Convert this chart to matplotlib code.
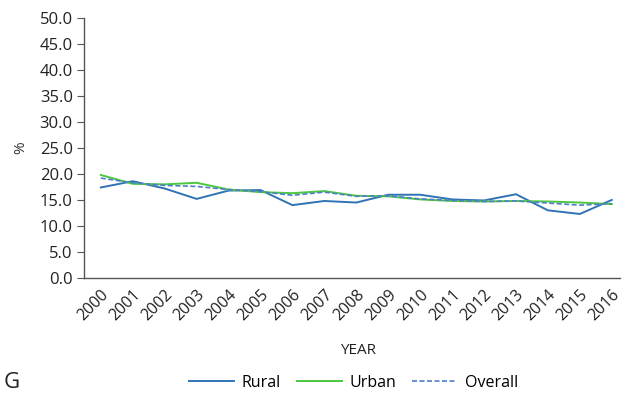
import matplotlib
matplotlib.use("Agg")
import matplotlib.pyplot as plt
from matplotlib.ticker import FormatStrFormatter

plt.rcParams['font.family'] = ['Open Sans', 'DejaVu Sans']

years = [str(y) for y in range(2000, 2017)]
rural = [17.4, 18.6, 17.2, 15.2, 16.8, 16.9, 14.0, 14.8, 14.5, 16.0, 16.0, 15.1, 14.9, 16.1, 13.0, 12.3, 15.0]
urban = [19.8, 18.1, 18.0, 18.3, 17.0, 16.5, 16.3, 16.7, 15.8, 15.7, 15.1, 14.8, 14.7, 14.8, 14.7, 14.5, 14.2]
overall = [19.2, 18.3, 17.8, 17.6, 17.0, 16.6, 15.9, 16.5, 15.7, 15.8, 15.2, 14.9, 14.7, 14.8, 14.4, 14.0, 14.3]
yticks = [0, 5, 10, 15, 20, 25, 30, 35, 40, 45, 50]

fig = plt.figure(figsize=(6.26, 4.01), dpi=100)
ax = fig.add_axes([0.134, 0.307, 0.856, 0.648])
x = list(range(len(years)))
ax.plot(x, rural, color='#2f73b5', lw=1.4, label='Rural')
ax.plot(x, urban, color='#4cc740', lw=1.4, label='Urban')
ax.plot(x, overall, color='#4f7fc8', lw=1.2, ls=(0, (3, 1.5)), label='Overall')

ax.set_ylim(0, 50)
ax.set_xlim(-0.53, 16.25)
ax.set_yticks(yticks)
ax.yaxis.set_major_formatter(FormatStrFormatter('%.1f'))
ax.set_xticks(x)
ax.set_xticklabels(years, rotation=45, ha='right', rotation_mode='anchor')
for s in ['top', 'right']:
    ax.spines[s].set_visible(False)
for s in ['left', 'bottom']:
    ax.spines[s].set_color('#555555')
    ax.spines[s].set_linewidth(1.0)
ax.tick_params(axis='y', length=5, color='#555555', labelsize=12, labelcolor='#222222', pad=3)
ax.tick_params(axis='x', length=0, labelsize=11.5, labelcolor='#222222', pad=6)
ax.set_ylabel('%', fontsize=11, color='#333333', labelpad=8)
fig.text(0.572, 0.127, 'YEAR', ha='center', va='center', fontsize=11, color='#222222')
fig.text(0.006, 0.045, 'G', ha='left', va='center', fontsize=16, color='#222222')
fig.legend(loc='center', bbox_to_anchor=(0.565, 0.045), ncol=3, frameon=False,
           fontsize=11.5, handlelength=2.8, columnspacing=1.0, handletextpad=0.5)
fig.savefig('out.png', dpi=100)
